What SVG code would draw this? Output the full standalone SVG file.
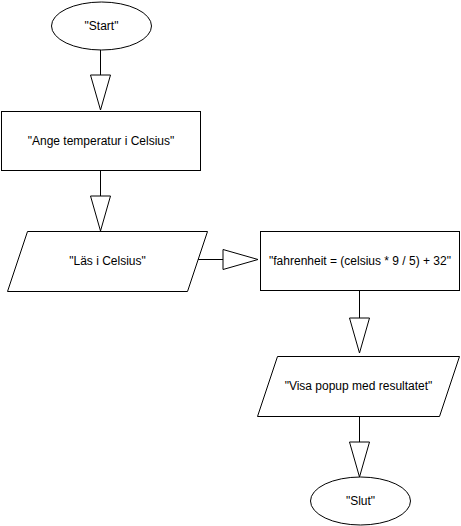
<svg xmlns="http://www.w3.org/2000/svg" width="461" height="526" viewBox="0 0 461 526">
<style>
.s{fill:#fff;stroke:#000;stroke-width:1}
.l{stroke:#000;stroke-width:1;fill:none}
.t{font-family:"Liberation Sans",Arial,sans-serif;font-size:12px;fill:#000;text-anchor:middle;dominant-baseline:central}
</style>
<rect width="461" height="526" fill="#fff"/>
<g id="connectors">
<line class="l" x1="100.5" y1="50" x2="100.5" y2="75"/>
<polygon class="s" points="90.5,75 110.5,75 100.5,110"/>
<line class="l" x1="100.5" y1="171" x2="100.5" y2="196"/>
<polygon class="s" points="90.5,196 110.5,196 100.5,231"/>
<line class="l" x1="197" y1="259.5" x2="223" y2="259.5"/>
<polygon class="s" points="223,249.5 223,269.5 258,259.5"/>
<line class="l" x1="359.5" y1="291" x2="359.5" y2="318"/>
<polygon class="s" points="349.5,318 369.5,318 359.5,353"/>
<line class="l" x1="359.5" y1="416" x2="359.5" y2="442"/>
<polygon class="s" points="349.5,442 369.5,442 359.5,477"/>
</g>
<g id="start">
<ellipse class="s" cx="101.5" cy="26" rx="50" ry="24"/>
<text class="t" x="101.5" y="26">"Start"</text>
</g>
<g id="ange">
<rect class="s" x="1.5" y="111.5" width="199" height="59"/>
<text class="t" x="101" y="141">"Ange temperatur i Celsius"</text>
</g>
<g id="las">
<polygon class="s" points="27.5,231.5 207.5,231.5 187.5,291.5 7.5,291.5"/>
<text class="t" x="107.5" y="261">"Läs i Celsius"</text>
</g>
<g id="calc">
<rect class="s" x="260.5" y="231.5" width="199" height="59"/>
<text class="t" x="360" y="261">"fahrenheit = (celsius * 9 / 5) + 32"</text>
</g>
<g id="visa">
<polygon class="s" points="277.5,356.5 459.5,356.5 439.5,416.5 257.5,416.5"/>
<text class="t" x="358.5" y="386">"Visa popup med resultatet"</text>
</g>
<g id="slut">
<ellipse class="s" cx="360.5" cy="501" rx="50" ry="24"/>
<text class="t" x="360.5" y="501">"Slut"</text>
</g>
</svg>
